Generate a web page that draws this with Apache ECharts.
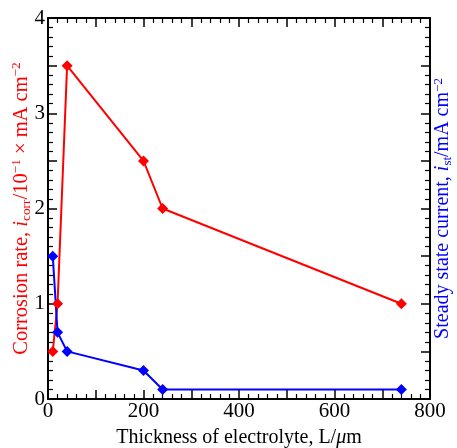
<!DOCTYPE html>
<html>
<head>
<meta charset="utf-8">
<script src="https://cdn.jsdelivr.net/npm/echarts@6/dist/echarts.min.js"></script>
<style>
  html, body { margin: 0; padding: 0; background: #fff; }
  #chart { width: 457px; height: 448px; }
</style>
</head>
<body>
<div id="chart"></div>
<script>
// Electrolyte thickness (µm) and the two measured responses
const thickness = [10, 20, 40, 200, 240, 740];
const corrosionRate = [0.5, 1.0, 3.5, 2.5, 2.0, 1.0];   // i_corr / 10^-1 mA cm^-2
const steadyCurrent = [1.5, 0.7, 0.5, 0.3, 0.1, 0.1];   // i_st / mA cm^-2
const xTickLabels = [0, 200, 400, 600, 800];
const yTickLabels = [0, 1, 2, 3, 4];

const FONT = 'Liberation Serif';
const chart = echarts.init(document.getElementById('chart'));

function pairs(ys) {
  return thickness.map((x, i) => [x, ys[i]]);
}

const richText = (color, size) => ({
  r: { fontFamily: FONT, fontSize: size, color: color },
  i: { fontFamily: FONT, fontSize: size, color: color, fontStyle: 'italic' },
  sub: { fontFamily: FONT, fontSize: size * 0.65, color: color, verticalAlign: 'bottom', lineHeight: size * 1.1 },
  sup: { fontFamily: FONT, fontSize: size * 0.65, color: color, verticalAlign: 'top', lineHeight: size * 1.1 }
});

const axisCommon = {
  min: 0,
  axisLine: { show: true, onZero: false, lineStyle: { color: '#000', width: 2 } },
  axisTick: { show: true, inside: true, length: 9, lineStyle: { color: '#000', width: 1.5 } },
  minorTick: { show: true, splitNumber: 5, length: 5, lineStyle: { color: '#000', width: 1.2 } },
  splitLine: { show: false },
  minorSplitLine: { show: false }
};

chart.setOption({
  animation: false,
  backgroundColor: '#fff',
  grid: { left: 48, right: 27, top: 18, bottom: 49, containLabel: false, outerBoundsMode: 'none' },
  xAxis: [
    Object.assign({}, axisCommon, {
      type: 'value', position: 'bottom', max: 800, interval: 100,
      axisLabel: {
        fontFamily: FONT, fontSize: 21, color: '#000', margin: 2,
        formatter: v => (xTickLabels.indexOf(v) >= 0 ? String(v) : '')
      },
      name: '{r|Thickness of electrolyte, L/}{i|μ}{r|m}',
      nameLocation: 'middle', nameGap: 29,
      nameTextStyle: { rich: richText('#000', 20) }
    }),
    Object.assign({}, axisCommon, {
      type: 'value', position: 'top', max: 800, interval: 100,
      axisLabel: { show: false }
    })
  ],
  yAxis: [
    Object.assign({}, axisCommon, {
      type: 'value', position: 'left', max: 4, interval: 0.5,
      axisLabel: {
        fontFamily: FONT, fontSize: 21, color: '#000', margin: 3,
        formatter: v => (yTickLabels.indexOf(v) >= 0 ? String(v) : '')
      },
      name: '{r|Corrosion rate, }{i|i}{sub|corr}{r|/10}{sup|−1}{r| × mA cm}{sup|−2}',
      nameLocation: 'middle', nameGap: 15, nameRotate: 90, nameMoveOverlap: false,
      nameTextStyle: { rich: richText('#ff0000', 20.5) }
    }),
    Object.assign({}, axisCommon, {
      type: 'value', position: 'right', max: 4, interval: 0.5,
      axisLabel: { show: false },
      name: '{r|Steady state current, }{i|i}{sub|st}{r|/mA cm}{sup|−2}',
      nameLocation: 'middle', nameGap: 2, nameRotate: 90, nameMoveOverlap: false,
      nameTextStyle: { rich: richText('#0000ff', 20) }
    })
  ],
  series: [
    {
      name: 'Corrosion rate',
      type: 'line',
      xAxisIndex: 0, yAxisIndex: 0,
      data: pairs(corrosionRate),
      symbol: 'diamond', symbolSize: 11,
      lineStyle: { color: '#ff0000', width: 2 },
      itemStyle: { color: '#ff0000' }
    },
    {
      name: 'Steady state current',
      type: 'line',
      xAxisIndex: 0, yAxisIndex: 0,
      data: pairs(steadyCurrent),
      symbol: 'diamond', symbolSize: 11,
      lineStyle: { color: '#0000ff', width: 2 },
      itemStyle: { color: '#0000ff' }
    }
  ]
});
</script>
</body>
</html>
